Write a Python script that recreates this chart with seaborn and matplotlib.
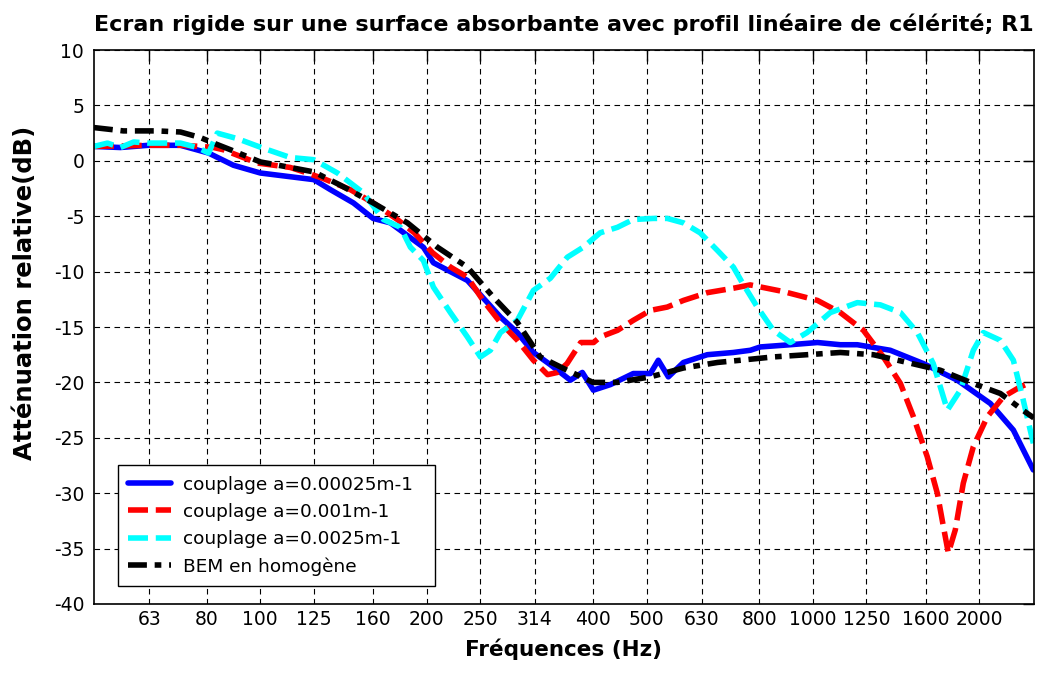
import numpy as np
import pandas as pd
import matplotlib
matplotlib.use("Agg")
import matplotlib.pyplot as plt
import seaborn as sns
from matplotlib.ticker import FixedLocator, FixedFormatter, NullLocator, MultipleLocator

# ---------------- data ----------------
tick_freqs = [63, 80, 100, 125, 160, 200, 250, 314, 400, 500, 630, 800, 1000, 1250, 1600, 2000]
tick_labels = ["63", "80", "100", "125", "160", "200", "250", "314", "400", "500",
               "630", "800", "1000", "1250", "1600", "2000"]

labels = ["couplage a=0.00025m-1", "couplage a=0.001m-1",
          "couplage a=0.0025m-1", "BEM en homogène"]

f_blue = [50, 55.8, 62.7, 71.7, 80.6, 89.4, 100, 125, 133.9, 147.4, 160, 171.9, 197.3,
          205.7, 237, 272, 291.8, 312, 334.8, 364, 382.6, 400.6, 430, 473, 508, 525,
          547.5, 583, 644, 717.6, 770.5, 803, 909.7, 1019, 1121, 1203, 1380, 1584,
          1825, 2094, 2305, 2505]
a_blue = [1.3, 1.2, 1.4, 1.4, 0.7, -0.4, -1.1, -1.7, -2.6, -3.8, -5.2, -5.6, -7.8,
          -9.2, -10.8, -14.1, -15.5, -17.3, -18.4, -19.8, -19.1, -20.7, -20.2, -19.2,
          -19.2, -18.0, -19.5, -18.2, -17.5, -17.3, -17.1, -16.8, -16.6, -16.4, -16.6,
          -16.6, -17.1, -18.3, -19.8, -21.9, -24.3, -27.9]

f_red = [50, 62.7, 71.7, 78, 82.3, 85.7, 98.8, 113.3, 121.6, 130, 145.5, 160, 177,
         190, 205, 221, 237, 253, 272, 292, 312, 331, 345, 359, 380, 401, 412, 443,
         473, 508, 545, 583, 644, 718, 770, 884, 1019, 1121, 1234, 1341, 1440, 1520,
         1610, 1679, 1722, 1758, 1810, 1871, 1951, 2068, 2211, 2373, 2453]
a_red = [1.3, 1.4, 1.4, 1.3, 1.2, 1.0, -0.2, -0.6, -1.1, -1.6, -2.6, -3.8, -5.3,
         -6.5, -8.3, -9.6, -10.5, -12.6, -14.6, -16.2, -18.0, -19.3, -19.1, -18.3,
         -16.4, -16.4, -15.9, -15.3, -14.4, -13.5, -13.2, -12.6, -11.9, -11.5, -11.2,
         -11.8, -12.6, -13.7, -15.3, -17.7, -20.1, -23.1, -26.7, -30.0, -33.0, -35.4,
         -33.3, -29.1, -25.8, -23.1, -21.3, -20.4, -20.1]

f_cyan = [50, 52.9, 55.8, 59, 62.7, 71.7, 76.9, 80.6, 83.6, 90.9, 100.4, 113.3, 125,
          137.9, 153.7, 167, 179.3, 186.9, 197.3, 205.7, 220.8, 237, 250.2, 260.8, 272,
          291.8, 312, 334.8, 359.4, 384, 412, 443, 473, 514, 545, 583, 625, 672, 718,
          745, 793, 848, 910, 976, 1075, 1203, 1324, 1440, 1545, 1651, 1751, 1848,
          1951, 2034, 2183, 2305, 2402, 2505]
a_cyan = [1.3, 1.6, 1.2, 1.7, 1.6, 1.6, 1.2, 0.7, 2.5, 2.0, 1.2, 0.3, 0.1,
          -1.1, -2.9, -5.3, -6.0, -7.8, -9.0, -11.4, -13.7, -15.9, -17.7, -17.1, -15.5,
          -14.4, -11.7, -10.6, -8.7, -7.8, -6.5, -6.0, -5.3, -5.2, -5.2, -5.6, -6.5,
          -8.1, -9.6, -11.0, -13.2, -15.3, -16.4, -15.5, -13.7, -12.8, -13.0, -13.7,
          -15.5, -18.3, -22.5, -20.7, -17.1, -15.5, -16.2, -18.0, -21.6, -25.5]

f_black = [50, 56.5, 65, 71.7, 77.9, 82.3, 88.3, 100, 113.3, 125, 139.6, 160, 184.6,
           209.2, 237, 264, 292, 321, 359, 400, 443, 508, 583, 672, 739, 848, 976,
           1121, 1286, 1482, 1700, 1951, 2183, 2443, 2510]
a_black = [3.0, 2.7, 2.7, 2.6, 2.1, 1.6, 1.0, -0.1, -0.6, -1.0, -2.2, -3.8, -5.6,
           -7.8, -9.6, -12.3, -14.6, -17.7, -18.9, -20.0, -20.0, -19.5, -18.7, -18.2,
           -18.0, -17.7, -17.5, -17.3, -17.5, -18.2, -18.9, -20.1, -21.0, -22.8, -23.2]

series = [
    (f_blue, a_blue, labels[0], "#0000FF", "-"),
    (f_red, a_red, labels[1], "#FF0000", (0, (3.6, 1.4))),
    (f_cyan, a_cyan, labels[2], "#00FFFF", (0, (3.6, 1.4))),
    (f_black, a_black, labels[3], "#000000", (0, (3.4, 1.4, 1.2, 1.4))),
]

# ---------------- plot ----------------
sns.set_style("white")
plt.rcParams['font.family'] = ['DejaVu Sans']
plt.rcParams['axes.unicode_minus'] = False
plt.rcParams['text.color'] = 'black'
plt.rcParams['axes.labelcolor'] = 'black'

fig = plt.figure(figsize=(10.37, 6.75), dpi=100)
ax = fig.add_axes([0.0906, 0.1052, 0.9065, 0.8207])

for f, a, lab, col, ls in series:
    df = pd.DataFrame({"f": f, "a": a})
    sns.lineplot(data=df, x="f", y="a", ax=ax, color=col, linewidth=4.0,
                 linestyle=ls, label=lab, sort=False, estimator=None)

ax.set_xscale("log")
ax.set_xlim(50, 2512)
ax.set_ylim(-40, 10)
ax.xaxis.set_major_locator(FixedLocator(tick_freqs))
ax.xaxis.set_major_formatter(FixedFormatter(tick_labels))
ax.xaxis.set_minor_locator(NullLocator())
ax.yaxis.set_major_locator(MultipleLocator(5))

ax.set_axisbelow(True)
ax.grid(True, which="major", color="black", linestyle=(0, (5, 4)), linewidth=0.8)
ax.tick_params(direction="in", length=8, width=1, top=True, right=True,
               labelsize=13.5, colors="black")
ax.tick_params(axis="x", pad=4)
ax.tick_params(axis="y", pad=7)
for sp in ax.spines.values():
    sp.set_color("black")
    sp.set_linewidth(1.2)

ax.set_title("Ecran rigide sur une surface absorbante avec profil linéaire de célérité; R1",
             fontsize=16, fontweight="bold", pad=14, color="black")
ax.set_xlabel("Fréquences (Hz)", fontsize=15.5, fontweight="bold", labelpad=7,
              color="black")
ax.set_ylabel("Atténuation relative(dB)", fontsize=17.5, fontweight="bold", color="black")
ax.yaxis.set_label_coords(-0.061, 0.561)

leg = ax.legend(loc="lower left", bbox_to_anchor=(0.0255, 0.0325, 0.3372, 0.2),
                mode="expand", fontsize=13.3,
                frameon=True, fancybox=False, framealpha=1, edgecolor="black",
                handlelength=2.3, handletextpad=0.7, borderpad=0.55, labelspacing=0.5,
                borderaxespad=0)
leg.get_frame().set_linewidth(1.0)
for t in leg.get_texts():
    t.set_color("black")

fig.savefig("out.png", dpi=100, facecolor="white")
